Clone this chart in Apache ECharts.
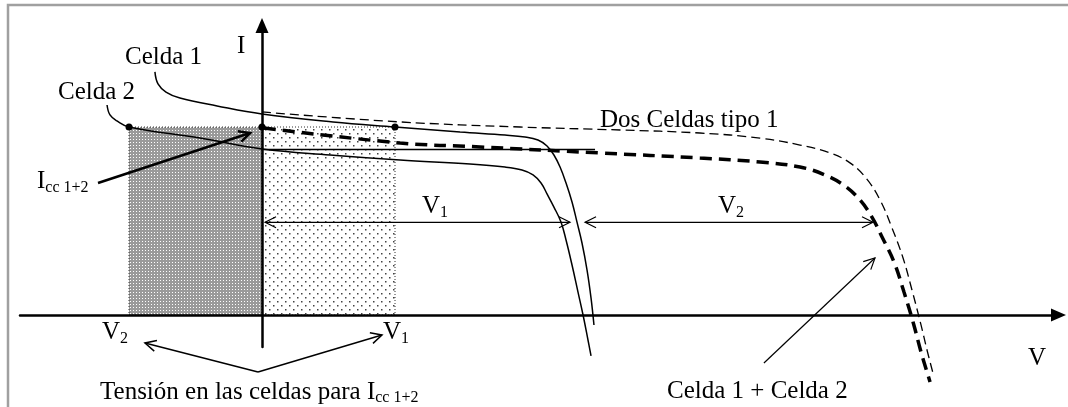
<!DOCTYPE html>
<html>
<head>
<meta charset="utf-8">
<style>
  html, body { margin: 0; padding: 0; background: #fff; }
  #main { width: 1068px; height: 407px; }
</style>
<script src="https://cdn.jsdelivr.net/npm/echarts@6.0.0/dist/echarts.min.js"></script>
</head>
<body>
<div id="main"></div>
<script>
/*
* Curvas I-V de dos celdas distintas conectadas en serie
* (valores normalizados: V1 = 1, Icc 1+2 = 1)
*/

// [V, I]
var celda1 = [[-0.805, 1.293], [-0.782, 1.229], [-0.722, 1.186], [-0.617, 1.154], [-0.338, 1.112],
  [0, 1.069], [0.534, 1.027], [1, 1], [1.489, 0.973], [1.827, 0.957], [1.977, 0.947], [2.075, 0.931],
  [2.143, 0.899], [2.195, 0.851], [2.241, 0.787], [2.286, 0.702], [2.331, 0.601], [2.368, 0.495],
  [2.406, 0.383], [2.444, 0.239], [2.474, 0.090], [2.496, -0.053]];
var celda2 = [[-1.165, 1.117], [-1.143, 1.064], [-1.090, 1.032], [-1, 1], [-0.466, 0.941],
  [0, 0.883], [0.511, 0.851], [1.038, 0.824], [1.564, 0.803], [1.827, 0.787], [1.955, 0.771],
  [2.038, 0.745], [2.098, 0.702], [2.143, 0.644], [2.195, 0.574], [2.248, 0.495], [2.286, 0.399],
  [2.331, 0.266], [2.376, 0.122], [2.414, 0], [2.451, -0.133], [2.474, -0.218]];
var dosCeldasTipo1 = [[0, 1.080], [1.038, 1.027], [1.940, 1.0], [2.692, 0.984], [3.293, 0.968],
  [3.744, 0.941], [4.045, 0.904], [4.271, 0.862], [4.421, 0.809], [4.541, 0.729], [4.647, 0.612],
  [4.737, 0.463], [4.820, 0.303], [4.887, 0.133], [4.955, -0.053], [5.0, -0.186], [5.045, -0.309]];
var celda1mas2 = [[0.015, 0.995], [1.038, 0.915], [1.639, 0.894], [2.541, 0.862], [3.293, 0.835],
  [3.744, 0.814], [4.045, 0.787], [4.233, 0.745], [4.383, 0.686], [4.496, 0.612], [4.586, 0.521],
  [4.662, 0.415], [4.752, 0.282], [4.827, 0.122], [4.895, -0.037], [4.955, -0.197], [5.0, -0.303],
  [5.023, -0.356]];
var nivelIcc2 = [[0, 0.88], [2.504, 0.88]];
var puntos = [[-1, 1], [0, 1], [1, 1]];
// zonas sombreadas [V0, I0, V1, I1]
var zonas = [[-1, 0, 0, 1], [0, 0, 1, 1]];
// flechas [V desde, I desde, V hasta, I hasta, doble punta]
var flechas = [
  [0.023, 0.493, 2.316, 0.493, 1],
  [2.429, 0.493, 4.594, 0.493, 1],
  [-1.233, 0.702, -0.090, 0.968, 0],
  [-0.030, -0.303, -0.880, -0.149, 0],
  [-0.030, -0.303, 0.902, -0.106, 0],
  [3.774, -0.255, 4.609, 0.303, 0]
];
var anchoFlecha = [1.2, 1.2, 2.5, 1.5, 1.5, 1.2];
// textos [V, I, texto, subindice]
var textos = [
  [-0.188, 1.426, 'I', ''],
  [-1.030, 1.372, 'Celda 1', ''],
  [-1.534, 1.184, 'Celda 2', ''],
  [2.541, 1.037, 'Dos Celdas tipo 1', ''],
  [-1.692, 0.707, 'I', 'cc 1+2'],
  [1.203, 0.572, 'V', '1'],
  [3.429, 0.572, 'V', '2'],
  [-1.203, -0.098, 'V', '2'],
  [0.910, -0.098, 'V', '1'],
  [-1.218, -0.415, 'Tensión en las celdas para I', 'cc 1+2'],
  [3.045, -0.404, 'Celda 1 + Celda 2', ''],
  [5.759, -0.231, 'V', '']
];

var FONT = '"Liberation Serif", "Times New Roman", serif';

// escala del dibujo
var pxV = 133, pxI = 188;
var ox = 262, oy = 315;
var gLeft = 20, gRight = 1058.5, gTop = 25.5, gBottom = 347;

function patron(size, fondo, puntosPat, colorPunto) {
  var c = document.createElement('canvas');
  c.width = size; c.height = size;
  var ctx = c.getContext('2d');
  ctx.fillStyle = fondo;
  ctx.fillRect(0, 0, size, size);
  ctx.fillStyle = colorPunto;
  puntosPat.forEach(function (p) { ctx.fillRect(p[0], p[1], p[2], p[2]); });
  return { image: c, repeat: 'repeat' };
}
var patronDenso = patron(3, '#9a9a9a', [[1, 1, 1]], '#ffffff');
var patronClaro = patron(8, '#ffffff', [[1, 1, 1.5], [5, 5, 1.5]], '#444444');

function punta(tip, from, w) {
  var dx = tip[0] - from[0], dy = tip[1] - from[1];
  var L = Math.sqrt(dx * dx + dy * dy);
  var ux = dx / L, uy = dy / L;
  var len = 11, half = 5.5;
  var bx = tip[0] - ux * len, by = tip[1] - uy * len;
  return {
    type: 'polyline',
    shape: { points: [[bx - uy * half, by + ux * half], tip, [bx + uy * half, by - ux * half]] },
    style: { stroke: '#000', lineWidth: w, fill: null }
  };
}

var myChart = echarts.init(document.getElementById('main'));

var ejeLinea = {
  show: true,
  onZero: true,
  symbol: ['none', 'triangle'],
  symbolSize: [13, 15],
  lineStyle: { color: '#000', width: 2.5 }
};

function curva(data, width, type) {
  return {
    type: 'line',
    data: data,
    showSymbol: false,
    smooth: 0.4,
    clip: false,
    silent: true,
    z: 4,
    lineStyle: { color: '#000', width: width, type: type }
  };
}

var option = {
  animation: false,
  backgroundColor: '#fff',
  grid: { left: gLeft, right: 1068 - gRight, top: gTop, bottom: 407 - gBottom },
  xAxis: {
    type: 'value',
    min: -(ox - gLeft) / pxV,
    max: (gRight - ox) / pxV,
    z: 3,
    axisLine: ejeLinea,
    axisTick: { show: false },
    axisLabel: { show: false },
    splitLine: { show: false }
  },
  yAxis: {
    type: 'value',
    min: -(gBottom - oy) / pxI,
    max: (oy - gTop) / pxI,
    z: 3,
    axisLine: ejeLinea,
    axisTick: { show: false },
    axisLabel: { show: false },
    splitLine: { show: false }
  },
  graphic: [{
    type: 'polyline',
    shape: { points: [[8, 407], [8, 5], [1068, 5]] },
    style: { stroke: '#a0a0a0', lineWidth: 2.5, fill: null },
    silent: true
  }],
  series: [
    {
      type: 'custom',
      data: zonas,
      z: 1,
      silent: true,
      renderItem: function (params, api) {
        var a = api.coord([api.value(0), api.value(1)]);
        var b = api.coord([api.value(2), api.value(3)]);
        return {
          type: 'rect',
          shape: { x: a[0], y: b[1], width: b[0] - a[0], height: a[1] - b[1] },
          style: {
            fill: params.dataIndex === 0 ? patronDenso : patronClaro,
            stroke: '#333', lineWidth: 1, lineDash: [1, 2]
          }
        };
      }
    },
    curva(celda1, 1.5, 'solid'),
    curva(celda2, 1.5, 'solid'),
    curva(nivelIcc2, 1.5, 'solid'),
    curva(dosCeldasTipo1, 1.3, [9, 5]),
    curva(celda1mas2, 3.5, [12, 7]),
    {
      type: 'scatter',
      data: puntos,
      symbolSize: 7,
      silent: true,
      z: 6,
      itemStyle: { color: '#000', opacity: 1 }
    },
    {
      type: 'custom',
      data: flechas,
      z: 5,
      silent: true,
      clip: false,
      renderItem: function (params, api) {
        var f = flechas[params.dataIndex];
        var w = anchoFlecha[params.dataIndex];
        var a = api.coord([f[0], f[1]]);
        var b = api.coord([f[2], f[3]]);
        var hijos = [{
          type: 'line',
          shape: { x1: a[0], y1: a[1], x2: b[0], y2: b[1] },
          style: { stroke: '#000', lineWidth: w }
        }, punta(b, a, w)];
        if (f[4]) hijos.push(punta(a, b, w));
        return { type: 'group', children: hijos };
      }
    },
    {
      type: 'custom',
      data: textos.map(function (t) { return [t[0], t[1]]; }),
      z: 7,
      silent: true,
      clip: false,
      renderItem: function (params, api) {
        var t = textos[params.dataIndex];
        var p = api.coord([api.value(0), api.value(1)]);
        var txt = '{m|' + t[2] + '}' + (t[3] ? '{s|' + t[3] + '}' : '');
        return {
          type: 'text',
          x: p[0],
          y: p[1],
          style: {
            text: txt,
            align: 'left',
            verticalAlign: 'middle',
            fill: '#000',
            rich: {
              m: { fontSize: 25, fontFamily: FONT, fill: '#000', verticalAlign: 'top' },
              s: { fontSize: 16, fontFamily: FONT, fill: '#000', verticalAlign: 'top', padding: [10.5, 0, 0, 0] }
            }
          }
        };
      }
    }
  ]
};

option && myChart.setOption(option);
</script>
</body>
</html>
